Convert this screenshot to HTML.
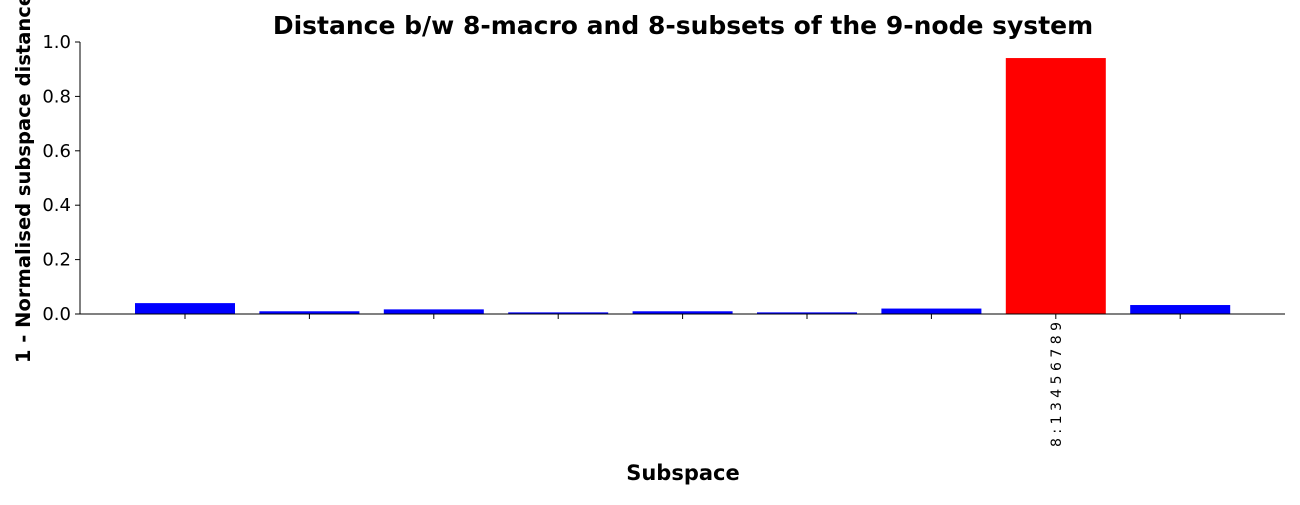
<!DOCTYPE html>
<html><head><meta charset="utf-8"><style>
body{margin:0;background:#fff;font-family:"Liberation Sans","DejaVu Sans",sans-serif}
</style></head><body>
<svg id="c" width="1300" height="500" xmlns="http://www.w3.org/2000/svg">
<text x="683" y="34" text-anchor="middle" font-size="25" font-weight="bold" font-family="DejaVu Sans, sans-serif">Distance b/w 8-macro and 8-subsets of the 9-node system</text>
<text x="683" y="480" text-anchor="middle" font-size="21" font-weight="bold" font-family="DejaVu Sans, sans-serif">Subspace</text>
<text transform="translate(30,178) rotate(-90)" text-anchor="middle" font-size="19.5" font-weight="bold" font-family="DejaVu Sans, sans-serif">1 - Normalised subspace distance</text>
<g id="bars"></g><g id="axes"></g>
</svg>
<script>
const categories=["","","","","","","","8 : 1 3 4 5 6 7 8 9",""];
const values=[0.04,0.01,0.017,0.006,0.01,0.006,0.02,0.941,0.033];
const colors=["blue","blue","blue","blue","blue","blue","blue","red","blue"];
const yTicks=[0,0.2,0.4,0.6,0.8,1.0];
const yTickLabels=["0.0","0.2","0.4","0.6","0.8","1.0"];
const NS="http://www.w3.org/2000/svg";
const x0=80,x1=1285,y0=314,y1=42;
const xs=i=>185+i*124.4, ys=v=>y0-(v)*(y0-y1);
const bars=document.getElementById('bars'),axes=document.getElementById('axes');
function mk(tag,at,p){const e=document.createElementNS(NS,tag);for(const k in at)e.setAttribute(k,at[k]);p.appendChild(e);return e;}
values.forEach((v,i)=>{
 const r=mk('rect',{x:xs(i)-50,y:ys(v),width:100,height:y0-ys(v),fill:colors[i]},bars);
 
 
 const t=mk('line',{x1:xs(i),x2:xs(i),y1:y0,y2:y0+5,stroke:'#000'},axes);
 
 
 if(categories[i]){
  const l=mk('text',{transform:`translate(${xs(i)+5},322) rotate(-90)`,'text-anchor':'end','font-size':14,'font-family':'DejaVu Sans, sans-serif'},axes);
  l.textContent=categories[i];
  
  
 }
});
yTicks.forEach((v,i)=>{
 const t=mk('line',{x1:x0-5,x2:x0,y1:ys(v),y2:ys(v),stroke:'#000'},axes);
 
 
 const l=mk('text',{x:x0-9,y:ys(v)+6,'text-anchor':'end','font-size':18,'font-family':'DejaVu Sans, sans-serif'},axes);
 l.textContent=yTickLabels[i];
 
 
});
const ya=mk('line',{x1:x0,x2:x0,y1:y1,y2:y0,stroke:'#000'},axes);


const xa=mk('line',{x1:x0,x2:x1,y1:y0,y2:y0,stroke:'#000'},axes);


</script>
</body></html>
